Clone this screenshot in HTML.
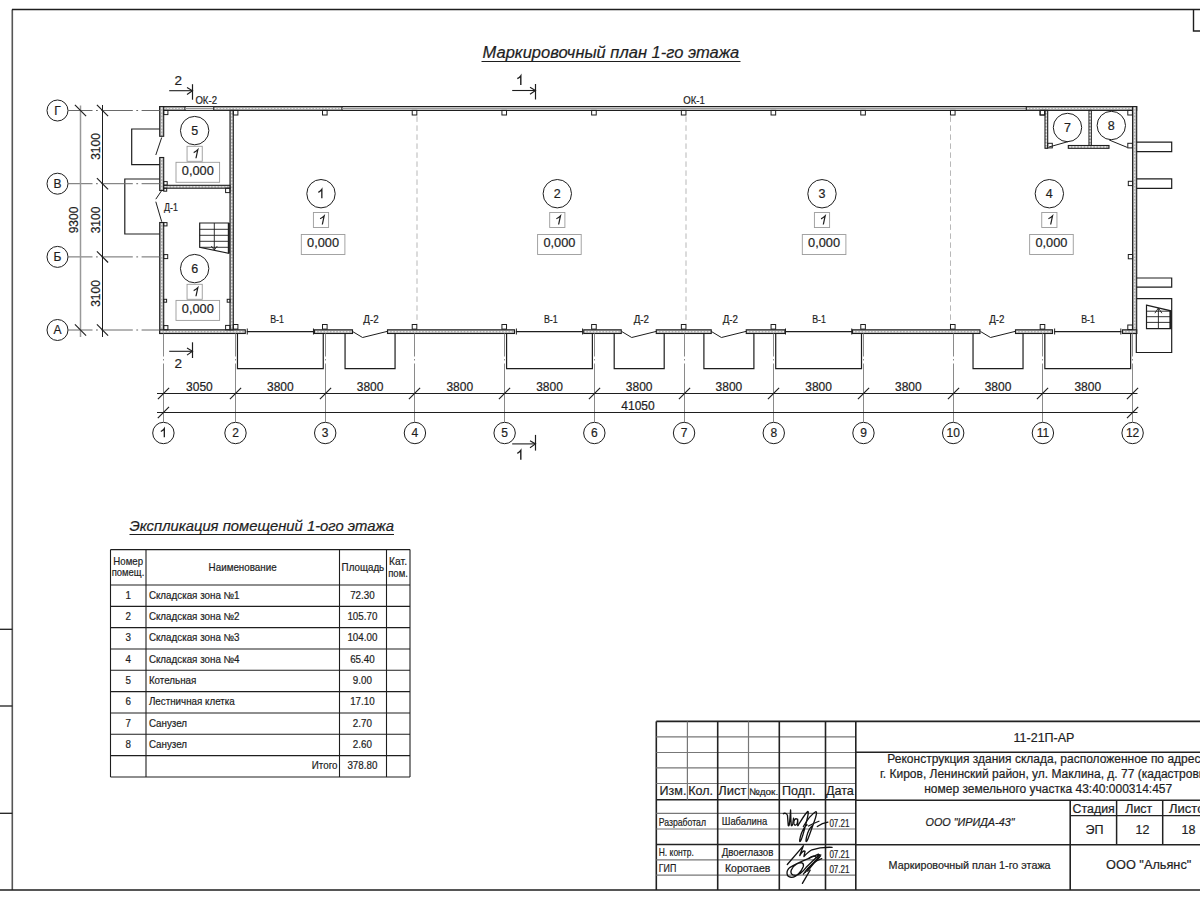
<!DOCTYPE html>
<html><head><meta charset="utf-8"><style>
html,body{margin:0;padding:0;background:#fff;width:1200px;height:900px;overflow:hidden;}
svg text{font-family:"Liberation Sans", sans-serif; stroke:#1e1e1e; stroke-width:0.2px;}
</style></head><body>
<svg width="1200" height="900" viewBox="0 0 1200 900" style="position:absolute;left:0;top:0" font-family='"Liberation Sans", sans-serif'>
<rect x="0" y="0" width="1200" height="900" fill="#ffffff"/>
<line x1="12.30" y1="9.50" x2="12.30" y2="890.00" stroke="#555" stroke-width="1.6" />
<line x1="12.00" y1="9.50" x2="1200.00" y2="9.50" stroke="#1e1e1e" stroke-width="1.6" />
<line x1="0.00" y1="890.00" x2="1200.00" y2="890.00" stroke="#1e1e1e" stroke-width="1.6" />
<line x1="0.00" y1="629.30" x2="12.30" y2="629.30" stroke="#1e1e1e" stroke-width="1.3" />
<line x1="0.00" y1="706.00" x2="12.30" y2="706.00" stroke="#1e1e1e" stroke-width="1.3" />
<line x1="0.00" y1="813.30" x2="12.30" y2="813.30" stroke="#1e1e1e" stroke-width="1.3" />
<polyline points="1200.00,31.00 1193.50,31.00 1193.50,9.50" fill="none" stroke="#1e1e1e" stroke-width="1.4" />
<text x="482.60" y="58.20" font-size="16" text-anchor="start" font-style="italic" fill="#1e1e1e" textLength="256.70" lengthAdjust="spacingAndGlyphs" >Маркировочный план 1-го этажа</text>
<line x1="481.50" y1="61.50" x2="740.50" y2="61.50" stroke="#1e1e1e" stroke-width="1" />
<rect x="159.70" y="106.60" width="25.30" height="3.80" fill="#b4b4b4" stroke="#1e1e1e" stroke-width="1.1" />
<line x1="160.70" y1="108.50" x2="184.00" y2="108.50" stroke="#eeeeee" stroke-width="1.2" stroke-dasharray="1.6 1.6"/>
<line x1="185.00" y1="106.60" x2="213.75" y2="106.60" stroke="#1e1e1e" stroke-width="1.1" />
<line x1="185.00" y1="110.40" x2="213.75" y2="110.40" stroke="#1e1e1e" stroke-width="1.1" />
<line x1="185.00" y1="108.50" x2="213.75" y2="108.50" stroke="#9a9a9a" stroke-width="1" />
<rect x="213.75" y="106.60" width="128.25" height="3.80" fill="#b4b4b4" stroke="#1e1e1e" stroke-width="1.1" />
<line x1="214.75" y1="108.50" x2="341.00" y2="108.50" stroke="#eeeeee" stroke-width="1.2" stroke-dasharray="1.6 1.6"/>
<line x1="342.00" y1="106.60" x2="1026.30" y2="106.60" stroke="#1e1e1e" stroke-width="1.1" />
<line x1="342.00" y1="110.40" x2="1026.30" y2="110.40" stroke="#1e1e1e" stroke-width="1.1" />
<line x1="342.00" y1="108.50" x2="1026.30" y2="108.50" stroke="#9a9a9a" stroke-width="1" />
<rect x="1026.30" y="106.60" width="110.40" height="3.80" fill="#b4b4b4" stroke="#1e1e1e" stroke-width="1.1" />
<line x1="1027.30" y1="108.50" x2="1135.70" y2="108.50" stroke="#eeeeee" stroke-width="1.2" stroke-dasharray="1.6 1.6"/>
<rect x="159.70" y="106.60" width="4.00" height="29.70" fill="#b4b4b4" stroke="#1e1e1e" stroke-width="1.1" />
<line x1="161.70" y1="107.60" x2="161.70" y2="135.30" stroke="#eeeeee" stroke-width="1.2" stroke-dasharray="1.6 1.6"/>
<rect x="159.70" y="157.50" width="4.00" height="33.00" fill="#b4b4b4" stroke="#1e1e1e" stroke-width="1.1" />
<line x1="161.70" y1="158.50" x2="161.70" y2="189.50" stroke="#eeeeee" stroke-width="1.2" stroke-dasharray="1.6 1.6"/>
<rect x="159.70" y="222.50" width="4.00" height="111.00" fill="#b4b4b4" stroke="#1e1e1e" stroke-width="1.1" />
<line x1="161.70" y1="223.50" x2="161.70" y2="332.50" stroke="#eeeeee" stroke-width="1.2" stroke-dasharray="1.6 1.6"/>
<rect x="1132.60" y="106.60" width="4.10" height="226.90" fill="#b4b4b4" stroke="#1e1e1e" stroke-width="1.1" />
<line x1="1134.65" y1="107.60" x2="1134.65" y2="332.50" stroke="#eeeeee" stroke-width="1.2" stroke-dasharray="1.6 1.6"/>
<rect x="159.70" y="329.80" width="85.60" height="3.70" fill="#b4b4b4" stroke="#1e1e1e" stroke-width="1.1" />
<line x1="160.70" y1="331.65" x2="244.30" y2="331.65" stroke="#eeeeee" stroke-width="1.2" stroke-dasharray="1.6 1.6"/>
<rect x="314.50" y="329.80" width="38.00" height="3.70" fill="#b4b4b4" stroke="#1e1e1e" stroke-width="1.1" />
<line x1="315.50" y1="331.65" x2="351.50" y2="331.65" stroke="#eeeeee" stroke-width="1.2" stroke-dasharray="1.6 1.6"/>
<rect x="387.50" y="329.80" width="127.00" height="3.70" fill="#b4b4b4" stroke="#1e1e1e" stroke-width="1.1" />
<line x1="388.50" y1="331.65" x2="513.50" y2="331.65" stroke="#eeeeee" stroke-width="1.2" stroke-dasharray="1.6 1.6"/>
<rect x="583.75" y="329.80" width="37.50" height="3.70" fill="#b4b4b4" stroke="#1e1e1e" stroke-width="1.1" />
<line x1="584.75" y1="331.65" x2="620.25" y2="331.65" stroke="#eeeeee" stroke-width="1.2" stroke-dasharray="1.6 1.6"/>
<rect x="656.25" y="329.80" width="55.00" height="3.70" fill="#b4b4b4" stroke="#1e1e1e" stroke-width="1.1" />
<line x1="657.25" y1="331.65" x2="710.25" y2="331.65" stroke="#eeeeee" stroke-width="1.2" stroke-dasharray="1.6 1.6"/>
<rect x="746.25" y="329.80" width="38.75" height="3.70" fill="#b4b4b4" stroke="#1e1e1e" stroke-width="1.1" />
<line x1="747.25" y1="331.65" x2="784.00" y2="331.65" stroke="#eeeeee" stroke-width="1.2" stroke-dasharray="1.6 1.6"/>
<rect x="852.50" y="329.80" width="127.50" height="3.70" fill="#b4b4b4" stroke="#1e1e1e" stroke-width="1.1" />
<line x1="853.50" y1="331.65" x2="979.00" y2="331.65" stroke="#eeeeee" stroke-width="1.2" stroke-dasharray="1.6 1.6"/>
<rect x="1015.50" y="329.80" width="37.00" height="3.70" fill="#b4b4b4" stroke="#1e1e1e" stroke-width="1.1" />
<line x1="1016.50" y1="331.65" x2="1051.50" y2="331.65" stroke="#eeeeee" stroke-width="1.2" stroke-dasharray="1.6 1.6"/>
<rect x="1122.50" y="329.80" width="14.20" height="3.70" fill="#b4b4b4" stroke="#1e1e1e" stroke-width="1.1" />
<line x1="1123.50" y1="331.65" x2="1135.70" y2="331.65" stroke="#eeeeee" stroke-width="1.2" stroke-dasharray="1.6 1.6"/>
<line x1="246.76" y1="331.60" x2="313.96" y2="331.60" stroke="#1e1e1e" stroke-width="1.1" />
<line x1="247.26" y1="328.50" x2="247.26" y2="334.50" stroke="#1e1e1e" stroke-width="1" />
<line x1="313.46" y1="328.50" x2="313.46" y2="334.50" stroke="#1e1e1e" stroke-width="1" />
<text x="277.00" y="322.80" font-size="10" text-anchor="middle"  fill="#1e1e1e" textLength="13.70" lengthAdjust="spacingAndGlyphs" >В-1</text>
<polyline points="237.46,333.50 237.46,368.60 323.25,368.60 323.25,333.50" fill="none" stroke="#1e1e1e" stroke-width="1.2" />
<line x1="515.88" y1="331.60" x2="583.08" y2="331.60" stroke="#1e1e1e" stroke-width="1.1" />
<line x1="516.38" y1="328.50" x2="516.38" y2="334.50" stroke="#1e1e1e" stroke-width="1" />
<line x1="582.58" y1="328.50" x2="582.58" y2="334.50" stroke="#1e1e1e" stroke-width="1" />
<text x="550.85" y="322.80" font-size="10" text-anchor="middle"  fill="#1e1e1e" textLength="13.70" lengthAdjust="spacingAndGlyphs" >В-1</text>
<polyline points="506.58,333.50 506.58,368.60 592.38,368.60 592.38,333.50" fill="none" stroke="#1e1e1e" stroke-width="1.2" />
<line x1="785.01" y1="331.60" x2="852.22" y2="331.60" stroke="#1e1e1e" stroke-width="1.1" />
<line x1="785.51" y1="328.50" x2="785.51" y2="334.50" stroke="#1e1e1e" stroke-width="1" />
<line x1="851.72" y1="328.50" x2="851.72" y2="334.50" stroke="#1e1e1e" stroke-width="1" />
<text x="819.10" y="322.80" font-size="10" text-anchor="middle"  fill="#1e1e1e" textLength="13.70" lengthAdjust="spacingAndGlyphs" >В-1</text>
<polyline points="775.72,333.50 775.72,368.60 861.51,368.60 861.51,333.50" fill="none" stroke="#1e1e1e" stroke-width="1.2" />
<line x1="1054.14" y1="331.60" x2="1121.34" y2="331.60" stroke="#1e1e1e" stroke-width="1.1" />
<line x1="1054.64" y1="328.50" x2="1054.64" y2="334.50" stroke="#1e1e1e" stroke-width="1" />
<line x1="1120.84" y1="328.50" x2="1120.84" y2="334.50" stroke="#1e1e1e" stroke-width="1" />
<text x="1088.10" y="322.80" font-size="10" text-anchor="middle"  fill="#1e1e1e" textLength="13.70" lengthAdjust="spacingAndGlyphs" >В-1</text>
<polyline points="1044.84,333.50 1044.84,368.60 1130.64,368.60 1130.64,333.50" fill="none" stroke="#1e1e1e" stroke-width="1.2" />
<polyline points="352.56,331.50 362.56,337.50 387.56,331.30" fill="none" stroke="#1e1e1e" stroke-width="1" />
<text x="371.00" y="322.80" font-size="10.2" text-anchor="middle"  fill="#1e1e1e" textLength="15.30" lengthAdjust="spacingAndGlyphs" >Д-2</text>
<polyline points="345.06,333.50 345.06,368.60 395.06,368.60 395.06,333.50" fill="none" stroke="#1e1e1e" stroke-width="1.2" />
<polyline points="621.69,331.50 631.69,337.50 656.69,331.30" fill="none" stroke="#1e1e1e" stroke-width="1" />
<text x="641.40" y="322.80" font-size="10.2" text-anchor="middle"  fill="#1e1e1e" textLength="15.30" lengthAdjust="spacingAndGlyphs" >Д-2</text>
<polyline points="614.19,333.50 614.19,368.60 664.19,368.60 664.19,333.50" fill="none" stroke="#1e1e1e" stroke-width="1.2" />
<polyline points="711.40,331.50 721.40,337.50 746.40,331.30" fill="none" stroke="#1e1e1e" stroke-width="1" />
<text x="730.30" y="322.80" font-size="10.2" text-anchor="middle"  fill="#1e1e1e" textLength="15.30" lengthAdjust="spacingAndGlyphs" >Д-2</text>
<polyline points="703.90,333.50 703.90,368.60 753.90,368.60 753.90,333.50" fill="none" stroke="#1e1e1e" stroke-width="1.2" />
<polyline points="980.53,331.50 990.53,337.50 1015.53,331.30" fill="none" stroke="#1e1e1e" stroke-width="1" />
<text x="996.90" y="322.80" font-size="10.2" text-anchor="middle"  fill="#1e1e1e" textLength="15.30" lengthAdjust="spacingAndGlyphs" >Д-2</text>
<polyline points="973.03,333.50 973.03,368.60 1023.03,368.60 1023.03,333.50" fill="none" stroke="#1e1e1e" stroke-width="1.2" />
<rect x="230.00" y="110.40" width="3.30" height="219.40" fill="#b4b4b4" stroke="#1e1e1e" stroke-width="1.1" />
<line x1="231.65" y1="111.40" x2="231.65" y2="328.80" stroke="#eeeeee" stroke-width="1.2" stroke-dasharray="1.6 1.6"/>
<rect x="163.70" y="185.30" width="66.30" height="2.90" fill="#b4b4b4" stroke="#1e1e1e" stroke-width="1.1" />
<line x1="164.70" y1="186.75" x2="229.00" y2="186.75" stroke="#eeeeee" stroke-width="1.2" stroke-dasharray="1.6 1.6"/>
<rect x="1045.00" y="110.40" width="2.70" height="37.90" fill="#b4b4b4" stroke="#1e1e1e" stroke-width="1.1" />
<line x1="1046.35" y1="111.40" x2="1046.35" y2="147.30" stroke="#eeeeee" stroke-width="1.2" stroke-dasharray="1.6 1.6"/>
<rect x="1089.00" y="110.40" width="2.30" height="35.10" fill="#b4b4b4" stroke="#1e1e1e" stroke-width="1.1" />
<line x1="1090.15" y1="111.40" x2="1090.15" y2="144.50" stroke="#eeeeee" stroke-width="1.2" stroke-dasharray="1.6 1.6"/>
<rect x="1068.30" y="145.50" width="40.70" height="2.80" fill="#b4b4b4" stroke="#1e1e1e" stroke-width="1.1" />
<line x1="1069.30" y1="146.90" x2="1108.00" y2="146.90" stroke="#eeeeee" stroke-width="1.2" stroke-dasharray="1.6 1.6"/>
<line x1="1049.00" y1="147.00" x2="1069.20" y2="141.30" stroke="#1e1e1e" stroke-width="1" />
<line x1="1109.20" y1="140.00" x2="1127.50" y2="147.50" stroke="#1e1e1e" stroke-width="1" />
<rect x="233.30" y="110.40" width="4.60" height="4.60" fill="none" stroke="#1e1e1e" stroke-width="1" />
<rect x="233.30" y="324.50" width="4.60" height="4.60" fill="none" stroke="#1e1e1e" stroke-width="1" />
<rect x="322.51" y="110.40" width="4.60" height="4.60" fill="none" stroke="#1e1e1e" stroke-width="1" />
<rect x="322.51" y="324.50" width="4.60" height="4.60" fill="none" stroke="#1e1e1e" stroke-width="1" />
<rect x="412.22" y="110.40" width="4.60" height="4.60" fill="none" stroke="#1e1e1e" stroke-width="1" />
<rect x="412.22" y="324.50" width="4.60" height="4.60" fill="none" stroke="#1e1e1e" stroke-width="1" />
<rect x="501.93" y="110.40" width="4.60" height="4.60" fill="none" stroke="#1e1e1e" stroke-width="1" />
<rect x="501.93" y="324.50" width="4.60" height="4.60" fill="none" stroke="#1e1e1e" stroke-width="1" />
<rect x="591.64" y="110.40" width="4.60" height="4.60" fill="none" stroke="#1e1e1e" stroke-width="1" />
<rect x="591.64" y="324.50" width="4.60" height="4.60" fill="none" stroke="#1e1e1e" stroke-width="1" />
<rect x="681.35" y="110.40" width="4.60" height="4.60" fill="none" stroke="#1e1e1e" stroke-width="1" />
<rect x="681.35" y="324.50" width="4.60" height="4.60" fill="none" stroke="#1e1e1e" stroke-width="1" />
<rect x="771.06" y="110.40" width="4.60" height="4.60" fill="none" stroke="#1e1e1e" stroke-width="1" />
<rect x="771.06" y="324.50" width="4.60" height="4.60" fill="none" stroke="#1e1e1e" stroke-width="1" />
<rect x="860.77" y="110.40" width="4.60" height="4.60" fill="none" stroke="#1e1e1e" stroke-width="1" />
<rect x="860.77" y="324.50" width="4.60" height="4.60" fill="none" stroke="#1e1e1e" stroke-width="1" />
<rect x="950.48" y="110.40" width="4.60" height="4.60" fill="none" stroke="#1e1e1e" stroke-width="1" />
<rect x="950.48" y="324.50" width="4.60" height="4.60" fill="none" stroke="#1e1e1e" stroke-width="1" />
<rect x="1040.19" y="110.40" width="4.60" height="4.60" fill="none" stroke="#1e1e1e" stroke-width="1" />
<rect x="1040.19" y="324.50" width="4.60" height="4.60" fill="none" stroke="#1e1e1e" stroke-width="1" />
<rect x="163.70" y="110.40" width="4.20" height="4.20" fill="none" stroke="#1e1e1e" stroke-width="1" />
<rect x="163.70" y="181.60" width="3.50" height="3.50" fill="none" stroke="#1e1e1e" stroke-width="1" />
<rect x="163.70" y="188.20" width="3.00" height="3.00" fill="none" stroke="#1e1e1e" stroke-width="1" />
<rect x="163.70" y="222.60" width="3.30" height="3.30" fill="none" stroke="#1e1e1e" stroke-width="1" />
<rect x="163.70" y="254.60" width="4.00" height="4.00" fill="none" stroke="#1e1e1e" stroke-width="1" />
<rect x="163.70" y="325.60" width="4.20" height="4.20" fill="none" stroke="#1e1e1e" stroke-width="1" />
<rect x="225.60" y="188.20" width="4.40" height="4.40" fill="none" stroke="#1e1e1e" stroke-width="1" />
<rect x="227.20" y="299.30" width="2.90" height="2.90" fill="none" stroke="#1e1e1e" stroke-width="1" />
<rect x="163.70" y="299.30" width="2.90" height="2.90" fill="none" stroke="#1e1e1e" stroke-width="1" />
<rect x="225.60" y="325.40" width="4.40" height="4.40" fill="none" stroke="#1e1e1e" stroke-width="1" />
<rect x="1127.80" y="110.40" width="4.60" height="4.60" fill="none" stroke="#1e1e1e" stroke-width="1" />
<rect x="1128.30" y="181.30" width="4.30" height="4.30" fill="none" stroke="#1e1e1e" stroke-width="1" />
<rect x="1128.30" y="254.50" width="4.30" height="4.30" fill="none" stroke="#1e1e1e" stroke-width="1" />
<rect x="1127.80" y="325.00" width="4.60" height="4.60" fill="none" stroke="#1e1e1e" stroke-width="1" />
<rect x="1040.00" y="110.40" width="4.60" height="4.60" fill="none" stroke="#1e1e1e" stroke-width="1" />
<rect x="1047.70" y="143.30" width="4.60" height="4.60" fill="none" stroke="#1e1e1e" stroke-width="1" />
<rect x="1127.80" y="143.30" width="4.60" height="4.60" fill="none" stroke="#1e1e1e" stroke-width="1" />
<line x1="161.70" y1="137.50" x2="155.80" y2="155.00" stroke="#1e1e1e" stroke-width="1" />
<line x1="161.70" y1="190.50" x2="155.80" y2="199.20" stroke="#1e1e1e" stroke-width="1" />
<line x1="155.80" y1="201.70" x2="161.70" y2="221.70" stroke="#1e1e1e" stroke-width="1" />
<polyline points="159.70,129.00 131.70,129.00 131.70,164.60 159.70,164.60" fill="none" stroke="#1e1e1e" stroke-width="1.2" />
<polyline points="159.70,179.00 124.80,179.00 124.80,234.00 159.70,234.00" fill="none" stroke="#1e1e1e" stroke-width="1.2" />
<polyline points="1136.70,142.20 1171.70,142.20 1171.70,151.70 1136.70,151.70" fill="none" stroke="#1e1e1e" stroke-width="1.2" />
<polyline points="1136.70,178.80 1171.70,178.80 1171.70,188.30 1136.70,188.30" fill="none" stroke="#1e1e1e" stroke-width="1.2" />
<polyline points="1136.70,278.00 1171.70,278.00 1171.70,287.20 1136.70,287.20" fill="none" stroke="#1e1e1e" stroke-width="1.2" />
<polyline points="1136.70,298.70 1171.70,298.70 1171.70,352.50 1136.30,352.50 1136.30,333.50" fill="none" stroke="#1e1e1e" stroke-width="1.2" />
<polygon points="1146.50,305.20 1170.80,310.80 1170.80,328.70 1146.50,328.70" fill="none" stroke="#1e1e1e" stroke-width="1.2" />
<line x1="1146.50" y1="311.20" x2="1170.80" y2="311.20" stroke="#1e1e1e" stroke-width="0.9" />
<line x1="1146.50" y1="316.70" x2="1170.80" y2="316.70" stroke="#1e1e1e" stroke-width="0.9" />
<line x1="1146.50" y1="322.40" x2="1170.80" y2="322.40" stroke="#1e1e1e" stroke-width="0.9" />
<line x1="1158.40" y1="329.00" x2="1158.40" y2="308.00" stroke="#1e1e1e" stroke-width="0.9" />
<polyline points="1154.90,313.20 1158.40,308.00 1161.90,313.20" fill="none" stroke="#1e1e1e" stroke-width="0.9" />
<line x1="1170.50" y1="310.80" x2="1170.50" y2="328.70" stroke="#1e1e1e" stroke-width="2.2" />
<polygon points="199.70,223.00 228.70,223.00 228.70,253.30 199.70,247.30" fill="none" stroke="#1e1e1e" stroke-width="1.2" />
<line x1="199.70" y1="229.30" x2="228.70" y2="229.30" stroke="#1e1e1e" stroke-width="0.9" />
<line x1="199.70" y1="235.30" x2="228.70" y2="235.30" stroke="#1e1e1e" stroke-width="0.9" />
<line x1="199.70" y1="241.30" x2="228.70" y2="241.30" stroke="#1e1e1e" stroke-width="0.9" />
<line x1="199.70" y1="247.30" x2="228.70" y2="247.30" stroke="#1e1e1e" stroke-width="0.9" />
<line x1="214.30" y1="223.00" x2="214.30" y2="250.00" stroke="#1e1e1e" stroke-width="0.9" />
<polyline points="211.30,246.00 214.30,250.00 217.30,246.00" fill="none" stroke="#1e1e1e" stroke-width="0.9" />
<line x1="228.80" y1="223.00" x2="228.80" y2="253.30" stroke="#1e1e1e" stroke-width="2" />
<line x1="417.00" y1="116.40" x2="417.00" y2="323.80" stroke="#999" stroke-width="0.7" stroke-dasharray="5.5 3.5"/>
<line x1="686.00" y1="116.40" x2="686.00" y2="323.80" stroke="#999" stroke-width="0.7" stroke-dasharray="5.5 3.5"/>
<line x1="950.50" y1="116.40" x2="950.50" y2="323.80" stroke="#999" stroke-width="0.7" stroke-dasharray="5.5 3.5"/>
<circle cx="194.65" cy="130.60" r="14.20" fill="none" stroke="#1e1e1e" stroke-width="1"/>
<text x="194.65" y="135.20" font-size="12.5" text-anchor="middle"  fill="#1e1e1e"  >5</text>
<rect x="187.05" y="146.30" width="15.20" height="15.00" fill="none" stroke="#9a9a9a" stroke-width="0.9" />
<g transform="translate(194.85,158.30) skewX(-12) translate(-194.85,-158.30)">
<path d="M 195.97,158.30 L 195.97,149.70 C 195.07,151.00 193.97,151.90 192.47,152.60" fill="none" stroke="#1e1e1e" stroke-width="1.25" stroke-linejoin="miter"/>
</g>
<rect x="176.00" y="162.30" width="43.60" height="20.00" fill="none" stroke="#9a9a9a" stroke-width="0.9" />
<text x="197.80" y="174.90" font-size="12.8" text-anchor="middle"  fill="#1e1e1e"  >0,000</text>
<circle cx="194.65" cy="268.60" r="14.20" fill="none" stroke="#1e1e1e" stroke-width="1"/>
<text x="194.65" y="273.20" font-size="12.5" text-anchor="middle"  fill="#1e1e1e"  >6</text>
<rect x="187.05" y="284.30" width="15.20" height="15.00" fill="none" stroke="#9a9a9a" stroke-width="0.9" />
<g transform="translate(194.85,296.30) skewX(-12) translate(-194.85,-296.30)">
<path d="M 195.97,296.30 L 195.97,287.70 C 195.07,289.00 193.97,289.90 192.47,290.60" fill="none" stroke="#1e1e1e" stroke-width="1.25" stroke-linejoin="miter"/>
</g>
<rect x="176.00" y="300.40" width="43.60" height="20.00" fill="none" stroke="#9a9a9a" stroke-width="0.9" />
<text x="197.80" y="313.00" font-size="12.8" text-anchor="middle"  fill="#1e1e1e"  >0,000</text>
<circle cx="321.00" cy="193.70" r="14.20" fill="none" stroke="#1e1e1e" stroke-width="1"/>
<path d="M 321.84,198.20 L 321.84,189.40 C 320.94,190.70 319.84,191.60 318.34,192.30" fill="none" stroke="#1e1e1e" stroke-width="1.3" stroke-linejoin="miter"/>
<rect x="313.40" y="212.50" width="15.20" height="15.00" fill="none" stroke="#9a9a9a" stroke-width="0.9" />
<g transform="translate(321.20,224.50) skewX(-12) translate(-321.20,-224.50)">
<path d="M 322.32,224.50 L 322.32,215.90 C 321.42,217.20 320.32,218.10 318.82,218.80" fill="none" stroke="#1e1e1e" stroke-width="1.25" stroke-linejoin="miter"/>
</g>
<rect x="301.30" y="234.50" width="43.60" height="20.00" fill="none" stroke="#9a9a9a" stroke-width="0.9" />
<text x="323.10" y="247.10" font-size="12.8" text-anchor="middle"  fill="#1e1e1e"  >0,000</text>
<circle cx="557.30" cy="193.70" r="14.20" fill="none" stroke="#1e1e1e" stroke-width="1"/>
<text x="557.30" y="198.30" font-size="12.5" text-anchor="middle"  fill="#1e1e1e"  >2</text>
<rect x="549.70" y="212.50" width="15.20" height="15.00" fill="none" stroke="#9a9a9a" stroke-width="0.9" />
<g transform="translate(557.50,224.50) skewX(-12) translate(-557.50,-224.50)">
<path d="M 558.62,224.50 L 558.62,215.90 C 557.72,217.20 556.62,218.10 555.12,218.80" fill="none" stroke="#1e1e1e" stroke-width="1.25" stroke-linejoin="miter"/>
</g>
<rect x="537.60" y="234.50" width="43.60" height="20.00" fill="none" stroke="#9a9a9a" stroke-width="0.9" />
<text x="559.40" y="247.10" font-size="12.8" text-anchor="middle"  fill="#1e1e1e"  >0,000</text>
<circle cx="822.00" cy="193.75" r="14.20" fill="none" stroke="#1e1e1e" stroke-width="1"/>
<text x="822.00" y="198.35" font-size="12.5" text-anchor="middle"  fill="#1e1e1e"  >3</text>
<rect x="814.40" y="212.55" width="15.20" height="15.00" fill="none" stroke="#9a9a9a" stroke-width="0.9" />
<g transform="translate(822.20,224.55) skewX(-12) translate(-822.20,-224.55)">
<path d="M 823.32,224.55 L 823.32,215.95 C 822.42,217.25 821.32,218.15 819.82,218.85" fill="none" stroke="#1e1e1e" stroke-width="1.25" stroke-linejoin="miter"/>
</g>
<rect x="802.30" y="234.55" width="43.60" height="20.00" fill="none" stroke="#9a9a9a" stroke-width="0.9" />
<text x="824.10" y="247.15" font-size="12.8" text-anchor="middle"  fill="#1e1e1e"  >0,000</text>
<circle cx="1049.35" cy="193.70" r="14.20" fill="none" stroke="#1e1e1e" stroke-width="1"/>
<text x="1049.35" y="198.30" font-size="12.5" text-anchor="middle"  fill="#1e1e1e"  >4</text>
<rect x="1041.75" y="212.50" width="15.20" height="15.00" fill="none" stroke="#9a9a9a" stroke-width="0.9" />
<g transform="translate(1049.55,224.50) skewX(-12) translate(-1049.55,-224.50)">
<path d="M 1050.67,224.50 L 1050.67,215.90 C 1049.77,217.20 1048.67,218.10 1047.17,218.80" fill="none" stroke="#1e1e1e" stroke-width="1.25" stroke-linejoin="miter"/>
</g>
<rect x="1029.65" y="234.50" width="43.60" height="20.00" fill="none" stroke="#9a9a9a" stroke-width="0.9" />
<text x="1051.45" y="247.10" font-size="12.8" text-anchor="middle"  fill="#1e1e1e"  >0,000</text>
<circle cx="1067.50" cy="127.50" r="14.20" fill="none" stroke="#1e1e1e" stroke-width="1"/>
<text x="1067.50" y="132.10" font-size="12.5" text-anchor="middle"  fill="#1e1e1e"  >7</text>
<circle cx="1111.30" cy="125.50" r="14.20" fill="none" stroke="#1e1e1e" stroke-width="1"/>
<text x="1111.30" y="130.10" font-size="12.5" text-anchor="middle"  fill="#1e1e1e"  >8</text>
<text x="195.40" y="103.80" font-size="11" text-anchor="start"  fill="#1e1e1e" textLength="21.60" lengthAdjust="spacingAndGlyphs" >ОК-2</text>
<text x="683.30" y="103.50" font-size="11" text-anchor="start"  fill="#1e1e1e" textLength="21.60" lengthAdjust="spacingAndGlyphs" >ОК-1</text>
<text x="164.10" y="210.50" font-size="10.6" text-anchor="start"  fill="#1e1e1e" textLength="13.80" lengthAdjust="spacingAndGlyphs" >Д-1</text>
<circle cx="57.50" cy="110.50" r="10.50" fill="none" stroke="#1e1e1e" stroke-width="1"/>
<text x="57.50" y="114.70" font-size="12" text-anchor="middle"  fill="#1e1e1e"  >Г</text>
<line x1="68.00" y1="110.50" x2="159.70" y2="110.50" stroke="#6a6a6a" stroke-width="1" stroke-dasharray="31.5 3.5 1.8 3.5" stroke-dashoffset="7"/>
<circle cx="57.50" cy="183.70" r="10.50" fill="none" stroke="#1e1e1e" stroke-width="1"/>
<text x="57.50" y="187.90" font-size="12" text-anchor="middle"  fill="#1e1e1e"  >В</text>
<line x1="68.00" y1="183.70" x2="159.70" y2="183.70" stroke="#6a6a6a" stroke-width="1" stroke-dasharray="31.5 3.5 1.8 3.5" stroke-dashoffset="7"/>
<circle cx="57.50" cy="256.90" r="10.50" fill="none" stroke="#1e1e1e" stroke-width="1"/>
<text x="57.50" y="261.10" font-size="12" text-anchor="middle"  fill="#1e1e1e"  >Б</text>
<line x1="68.00" y1="256.90" x2="159.70" y2="256.90" stroke="#6a6a6a" stroke-width="1" stroke-dasharray="31.5 3.5 1.8 3.5" stroke-dashoffset="7"/>
<circle cx="57.50" cy="330.00" r="10.50" fill="none" stroke="#1e1e1e" stroke-width="1"/>
<text x="57.50" y="334.20" font-size="12" text-anchor="middle"  fill="#1e1e1e"  >А</text>
<line x1="68.00" y1="330.00" x2="159.70" y2="330.00" stroke="#6a6a6a" stroke-width="1" stroke-dasharray="31.5 3.5 1.8 3.5" stroke-dashoffset="7"/>
<circle cx="163.40" cy="433.00" r="10.70" fill="none" stroke="#1e1e1e" stroke-width="1"/>
<path d="M 164.32,437.20 L 164.32,428.60 C 163.42,429.90 162.32,430.80 160.82,431.50" fill="none" stroke="#1e1e1e" stroke-width="1.3" stroke-linejoin="miter"/>
<line x1="163.50" y1="333.50" x2="163.50" y2="422.30" stroke="#8a8a8a" stroke-width="1" stroke-dasharray="23 2.5 1.5 3 200"/>
<circle cx="235.50" cy="433.00" r="10.70" fill="none" stroke="#1e1e1e" stroke-width="1"/>
<text x="235.50" y="437.20" font-size="12" text-anchor="middle"  fill="#1e1e1e"  >2</text>
<line x1="235.50" y1="333.50" x2="235.50" y2="422.30" stroke="#8a8a8a" stroke-width="1" stroke-dasharray="23 2.5 1.5 3 200"/>
<circle cx="325.21" cy="433.00" r="10.70" fill="none" stroke="#1e1e1e" stroke-width="1"/>
<text x="325.21" y="437.20" font-size="12" text-anchor="middle"  fill="#1e1e1e"  >3</text>
<line x1="325.50" y1="333.50" x2="325.50" y2="422.30" stroke="#8a8a8a" stroke-width="1" stroke-dasharray="23 2.5 1.5 3 200"/>
<circle cx="414.92" cy="433.00" r="10.70" fill="none" stroke="#1e1e1e" stroke-width="1"/>
<text x="414.92" y="437.20" font-size="12" text-anchor="middle"  fill="#1e1e1e"  >4</text>
<line x1="414.50" y1="333.50" x2="414.50" y2="422.30" stroke="#8a8a8a" stroke-width="1" stroke-dasharray="23 2.5 1.5 3 200"/>
<circle cx="504.63" cy="433.00" r="10.70" fill="none" stroke="#1e1e1e" stroke-width="1"/>
<text x="504.63" y="437.20" font-size="12" text-anchor="middle"  fill="#1e1e1e"  >5</text>
<line x1="504.50" y1="333.50" x2="504.50" y2="422.30" stroke="#8a8a8a" stroke-width="1" stroke-dasharray="23 2.5 1.5 3 200"/>
<circle cx="594.34" cy="433.00" r="10.70" fill="none" stroke="#1e1e1e" stroke-width="1"/>
<text x="594.34" y="437.20" font-size="12" text-anchor="middle"  fill="#1e1e1e"  >6</text>
<line x1="594.50" y1="333.50" x2="594.50" y2="422.30" stroke="#8a8a8a" stroke-width="1" stroke-dasharray="23 2.5 1.5 3 200"/>
<circle cx="684.05" cy="433.00" r="10.70" fill="none" stroke="#1e1e1e" stroke-width="1"/>
<text x="684.05" y="437.20" font-size="12" text-anchor="middle"  fill="#1e1e1e"  >7</text>
<line x1="684.50" y1="333.50" x2="684.50" y2="422.30" stroke="#8a8a8a" stroke-width="1" stroke-dasharray="23 2.5 1.5 3 200"/>
<circle cx="773.76" cy="433.00" r="10.70" fill="none" stroke="#1e1e1e" stroke-width="1"/>
<text x="773.76" y="437.20" font-size="12" text-anchor="middle"  fill="#1e1e1e"  >8</text>
<line x1="773.50" y1="333.50" x2="773.50" y2="422.30" stroke="#8a8a8a" stroke-width="1" stroke-dasharray="23 2.5 1.5 3 200"/>
<circle cx="863.47" cy="433.00" r="10.70" fill="none" stroke="#1e1e1e" stroke-width="1"/>
<text x="863.47" y="437.20" font-size="12" text-anchor="middle"  fill="#1e1e1e"  >9</text>
<line x1="863.50" y1="333.50" x2="863.50" y2="422.30" stroke="#8a8a8a" stroke-width="1" stroke-dasharray="23 2.5 1.5 3 200"/>
<circle cx="953.18" cy="433.00" r="10.70" fill="none" stroke="#1e1e1e" stroke-width="1"/>
<text x="953.18" y="437.20" font-size="12" text-anchor="middle"  fill="#1e1e1e"  >10</text>
<line x1="953.50" y1="333.50" x2="953.50" y2="422.30" stroke="#8a8a8a" stroke-width="1" stroke-dasharray="23 2.5 1.5 3 200"/>
<circle cx="1042.89" cy="433.00" r="10.70" fill="none" stroke="#1e1e1e" stroke-width="1"/>
<text x="1042.89" y="437.20" font-size="12" text-anchor="middle"  fill="#1e1e1e"  >11</text>
<line x1="1042.50" y1="333.50" x2="1042.50" y2="422.30" stroke="#8a8a8a" stroke-width="1" stroke-dasharray="23 2.5 1.5 3 200"/>
<circle cx="1132.60" cy="433.00" r="10.70" fill="none" stroke="#1e1e1e" stroke-width="1"/>
<text x="1132.60" y="437.20" font-size="12" text-anchor="middle"  fill="#1e1e1e"  >12</text>
<line x1="1132.50" y1="333.50" x2="1132.50" y2="422.30" stroke="#8a8a8a" stroke-width="1" stroke-dasharray="23 2.5 1.5 3 200"/>
<line x1="80.50" y1="105.50" x2="80.50" y2="337.00" stroke="#999" stroke-width="1.5" />
<line x1="102.50" y1="105.00" x2="102.50" y2="337.00" stroke="#1e1e1e" stroke-width="1" />
<line x1="74.90" y1="104.90" x2="86.10" y2="116.10" stroke="#1e1e1e" stroke-width="1.15" />
<line x1="74.90" y1="324.40" x2="86.10" y2="335.60" stroke="#1e1e1e" stroke-width="1.15" />
<line x1="96.90" y1="104.90" x2="108.10" y2="116.10" stroke="#1e1e1e" stroke-width="1.15" />
<line x1="96.90" y1="178.10" x2="108.10" y2="189.30" stroke="#1e1e1e" stroke-width="1.15" />
<line x1="96.90" y1="251.30" x2="108.10" y2="262.50" stroke="#1e1e1e" stroke-width="1.15" />
<line x1="96.90" y1="324.40" x2="108.10" y2="335.60" stroke="#1e1e1e" stroke-width="1.15" />
<text x="0.00" y="0.00" font-size="12" text-anchor="middle"  fill="#1e1e1e"  transform="translate(77.6,220) rotate(-90)">9300</text>
<text x="0.00" y="0.00" font-size="12" text-anchor="middle"  fill="#1e1e1e"  transform="translate(100.2,146.5) rotate(-90)">3100</text>
<text x="0.00" y="0.00" font-size="12" text-anchor="middle"  fill="#1e1e1e"  transform="translate(100.2,220) rotate(-90)">3100</text>
<text x="0.00" y="0.00" font-size="12" text-anchor="middle"  fill="#1e1e1e"  transform="translate(100.2,293.5) rotate(-90)">3100</text>
<line x1="157.00" y1="393.50" x2="1137.50" y2="393.50" stroke="#1e1e1e" stroke-width="1" />
<line x1="157.00" y1="412.50" x2="1137.50" y2="412.50" stroke="#1e1e1e" stroke-width="1" />
<line x1="157.90" y1="399.10" x2="169.10" y2="387.90" stroke="#1e1e1e" stroke-width="1.15" />
<line x1="229.90" y1="399.10" x2="241.10" y2="387.90" stroke="#1e1e1e" stroke-width="1.15" />
<line x1="319.90" y1="399.10" x2="331.10" y2="387.90" stroke="#1e1e1e" stroke-width="1.15" />
<line x1="408.90" y1="399.10" x2="420.10" y2="387.90" stroke="#1e1e1e" stroke-width="1.15" />
<line x1="498.90" y1="399.10" x2="510.10" y2="387.90" stroke="#1e1e1e" stroke-width="1.15" />
<line x1="588.90" y1="399.10" x2="600.10" y2="387.90" stroke="#1e1e1e" stroke-width="1.15" />
<line x1="678.90" y1="399.10" x2="690.10" y2="387.90" stroke="#1e1e1e" stroke-width="1.15" />
<line x1="767.90" y1="399.10" x2="779.10" y2="387.90" stroke="#1e1e1e" stroke-width="1.15" />
<line x1="857.90" y1="399.10" x2="869.10" y2="387.90" stroke="#1e1e1e" stroke-width="1.15" />
<line x1="947.90" y1="399.10" x2="959.10" y2="387.90" stroke="#1e1e1e" stroke-width="1.15" />
<line x1="1036.90" y1="399.10" x2="1048.10" y2="387.90" stroke="#1e1e1e" stroke-width="1.15" />
<line x1="1126.90" y1="399.10" x2="1138.10" y2="387.90" stroke="#1e1e1e" stroke-width="1.15" />
<line x1="157.80" y1="418.10" x2="169.00" y2="406.90" stroke="#1e1e1e" stroke-width="1.15" />
<line x1="1127.00" y1="418.10" x2="1138.20" y2="406.90" stroke="#1e1e1e" stroke-width="1.15" />
<text x="199.45" y="391.30" font-size="12" text-anchor="middle"  fill="#1e1e1e"  >3050</text>
<text x="280.36" y="391.30" font-size="12" text-anchor="middle"  fill="#1e1e1e"  >3800</text>
<text x="370.06" y="391.30" font-size="12" text-anchor="middle"  fill="#1e1e1e"  >3800</text>
<text x="459.77" y="391.30" font-size="12" text-anchor="middle"  fill="#1e1e1e"  >3800</text>
<text x="549.48" y="391.30" font-size="12" text-anchor="middle"  fill="#1e1e1e"  >3800</text>
<text x="639.19" y="391.30" font-size="12" text-anchor="middle"  fill="#1e1e1e"  >3800</text>
<text x="728.90" y="391.30" font-size="12" text-anchor="middle"  fill="#1e1e1e"  >3800</text>
<text x="818.62" y="391.30" font-size="12" text-anchor="middle"  fill="#1e1e1e"  >3800</text>
<text x="908.32" y="391.30" font-size="12" text-anchor="middle"  fill="#1e1e1e"  >3800</text>
<text x="998.03" y="391.30" font-size="12" text-anchor="middle"  fill="#1e1e1e"  >3800</text>
<text x="1087.74" y="391.30" font-size="12" text-anchor="middle"  fill="#1e1e1e"  >3800</text>
<text x="638.00" y="409.70" font-size="12" text-anchor="middle"  fill="#1e1e1e"  >41050</text>
<line x1="169.20" y1="90.70" x2="192.50" y2="90.70" stroke="#1e1e1e" stroke-width="1.1" />
<line x1="192.50" y1="84.20" x2="192.50" y2="99.70" stroke="#1e1e1e" stroke-width="1.2" />
<polyline points="187.00,87.50 192.50,90.70 187.00,94.50" fill="none" stroke="#1e1e1e" stroke-width="1.1" />
<text x="178.30" y="85.00" font-size="13.5" text-anchor="middle"  fill="#1e1e1e"  >2</text>
<line x1="512.20" y1="90.50" x2="535.50" y2="90.50" stroke="#1e1e1e" stroke-width="1.1" />
<line x1="535.50" y1="84.00" x2="535.50" y2="99.50" stroke="#1e1e1e" stroke-width="1.2" />
<polyline points="530.00,87.30 535.50,90.50 530.00,94.30" fill="none" stroke="#1e1e1e" stroke-width="1.1" />
<path d="M 520.81,85.10 L 520.81,75.80 C 519.91,77.10 518.81,78.00 517.31,78.70" fill="none" stroke="#1e1e1e" stroke-width="1.4" stroke-linejoin="miter"/>
<line x1="169.20" y1="351.30" x2="192.50" y2="351.30" stroke="#1e1e1e" stroke-width="1.1" />
<line x1="192.50" y1="342.30" x2="192.50" y2="358.00" stroke="#1e1e1e" stroke-width="1.2" />
<polyline points="187.00,348.10 192.50,351.30 187.00,355.10" fill="none" stroke="#1e1e1e" stroke-width="1.1" />
<text x="178.30" y="367.50" font-size="13.5" text-anchor="middle"  fill="#1e1e1e"  >2</text>
<line x1="512.20" y1="443.90" x2="535.50" y2="443.90" stroke="#1e1e1e" stroke-width="1.1" />
<line x1="535.50" y1="434.90" x2="535.50" y2="450.60" stroke="#1e1e1e" stroke-width="1.2" />
<polyline points="530.00,440.70 535.50,443.90 530.00,447.70" fill="none" stroke="#1e1e1e" stroke-width="1.1" />
<path d="M 520.81,459.70 L 520.81,450.40 C 519.91,451.70 518.81,452.60 517.31,453.30" fill="none" stroke="#1e1e1e" stroke-width="1.4" stroke-linejoin="miter"/>
<text x="129.50" y="531.20" font-size="14" text-anchor="start" font-style="italic" fill="#1e1e1e" textLength="264.40" lengthAdjust="spacingAndGlyphs" >Экспликация помещений 1-ого этажа</text>
<line x1="129.50" y1="534.50" x2="394.00" y2="534.50" stroke="#1e1e1e" stroke-width="1" />
<line x1="110.50" y1="549.60" x2="110.50" y2="777.00" stroke="#1e1e1e" stroke-width="1.1" />
<line x1="146.00" y1="549.60" x2="146.00" y2="777.00" stroke="#1e1e1e" stroke-width="1.1" />
<line x1="339.50" y1="549.60" x2="339.50" y2="777.00" stroke="#1e1e1e" stroke-width="1.1" />
<line x1="386.50" y1="549.60" x2="386.50" y2="777.00" stroke="#1e1e1e" stroke-width="1.1" />
<line x1="410.00" y1="549.60" x2="410.00" y2="777.00" stroke="#1e1e1e" stroke-width="1.1" />
<line x1="110.50" y1="549.60" x2="410.00" y2="549.60" stroke="#1e1e1e" stroke-width="1.1" />
<line x1="110.50" y1="585.00" x2="410.00" y2="585.00" stroke="#1e1e1e" stroke-width="1.1" />
<line x1="110.50" y1="606.33" x2="410.00" y2="606.33" stroke="#1e1e1e" stroke-width="1.1" />
<line x1="110.50" y1="627.66" x2="410.00" y2="627.66" stroke="#1e1e1e" stroke-width="1.1" />
<line x1="110.50" y1="648.99" x2="410.00" y2="648.99" stroke="#1e1e1e" stroke-width="1.1" />
<line x1="110.50" y1="670.32" x2="410.00" y2="670.32" stroke="#1e1e1e" stroke-width="1.1" />
<line x1="110.50" y1="691.65" x2="410.00" y2="691.65" stroke="#1e1e1e" stroke-width="1.1" />
<line x1="110.50" y1="712.98" x2="410.00" y2="712.98" stroke="#1e1e1e" stroke-width="1.1" />
<line x1="110.50" y1="734.31" x2="410.00" y2="734.31" stroke="#1e1e1e" stroke-width="1.1" />
<line x1="110.50" y1="755.64" x2="410.00" y2="755.64" stroke="#1e1e1e" stroke-width="1.1" />
<line x1="110.50" y1="777.00" x2="410.00" y2="777.00" stroke="#1e1e1e" stroke-width="1.1" />
<text x="113.30" y="564.90" font-size="10.8" text-anchor="start"  fill="#1e1e1e" textLength="29.70" lengthAdjust="spacingAndGlyphs" >Номер</text>
<text x="111.70" y="576.20" font-size="10.8" text-anchor="start"  fill="#1e1e1e" textLength="32.60" lengthAdjust="spacingAndGlyphs" >помещ.</text>
<text x="208.60" y="571.20" font-size="10.5" text-anchor="start"  fill="#1e1e1e" textLength="68.10" lengthAdjust="spacingAndGlyphs" >Наименование</text>
<text x="341.60" y="571.20" font-size="10.5" text-anchor="start"  fill="#1e1e1e" textLength="42.60" lengthAdjust="spacingAndGlyphs" >Площадь</text>
<text x="389.10" y="565.20" font-size="10.5" text-anchor="start"  fill="#1e1e1e" textLength="17.90" lengthAdjust="spacingAndGlyphs" >Кат.</text>
<text x="388.20" y="577.00" font-size="10.5" text-anchor="start"  fill="#1e1e1e" textLength="19.70" lengthAdjust="spacingAndGlyphs" >пом.</text>
<text x="128.25" y="598.80" font-size="10.2" text-anchor="middle"  fill="#1e1e1e" textLength="5.45" lengthAdjust="spacingAndGlyphs" >1</text>
<text x="148.90" y="598.80" font-size="10.2" text-anchor="start"  fill="#1e1e1e" textLength="90.63" lengthAdjust="spacingAndGlyphs" >Складская зона №1</text>
<text x="362.40" y="598.80" font-size="10.2" text-anchor="middle"  fill="#1e1e1e" textLength="24.52" lengthAdjust="spacingAndGlyphs" >72.30</text>
<text x="128.25" y="620.13" font-size="10.2" text-anchor="middle"  fill="#1e1e1e" textLength="5.45" lengthAdjust="spacingAndGlyphs" >2</text>
<text x="148.90" y="620.13" font-size="10.2" text-anchor="start"  fill="#1e1e1e" textLength="90.63" lengthAdjust="spacingAndGlyphs" >Складская зона №2</text>
<text x="362.40" y="620.13" font-size="10.2" text-anchor="middle"  fill="#1e1e1e" textLength="29.97" lengthAdjust="spacingAndGlyphs" >105.70</text>
<text x="128.25" y="641.46" font-size="10.2" text-anchor="middle"  fill="#1e1e1e" textLength="5.45" lengthAdjust="spacingAndGlyphs" >3</text>
<text x="148.90" y="641.46" font-size="10.2" text-anchor="start"  fill="#1e1e1e" textLength="90.63" lengthAdjust="spacingAndGlyphs" >Складская зона №3</text>
<text x="362.40" y="641.46" font-size="10.2" text-anchor="middle"  fill="#1e1e1e" textLength="29.97" lengthAdjust="spacingAndGlyphs" >104.00</text>
<text x="128.25" y="662.79" font-size="10.2" text-anchor="middle"  fill="#1e1e1e" textLength="5.45" lengthAdjust="spacingAndGlyphs" >4</text>
<text x="148.90" y="662.79" font-size="10.2" text-anchor="start"  fill="#1e1e1e" textLength="90.63" lengthAdjust="spacingAndGlyphs" >Складская зона №4</text>
<text x="362.40" y="662.79" font-size="10.2" text-anchor="middle"  fill="#1e1e1e" textLength="24.52" lengthAdjust="spacingAndGlyphs" >65.40</text>
<text x="128.25" y="684.12" font-size="10.2" text-anchor="middle"  fill="#1e1e1e" textLength="5.45" lengthAdjust="spacingAndGlyphs" >5</text>
<text x="148.90" y="684.12" font-size="10.2" text-anchor="start"  fill="#1e1e1e" textLength="47.44" lengthAdjust="spacingAndGlyphs" >Котельная</text>
<text x="362.40" y="684.12" font-size="10.2" text-anchor="middle"  fill="#1e1e1e" textLength="19.07" lengthAdjust="spacingAndGlyphs" >9.00</text>
<text x="128.25" y="705.45" font-size="10.2" text-anchor="middle"  fill="#1e1e1e" textLength="5.45" lengthAdjust="spacingAndGlyphs" >6</text>
<text x="148.90" y="705.45" font-size="10.2" text-anchor="start"  fill="#1e1e1e" textLength="85.84" lengthAdjust="spacingAndGlyphs" >Лестничная клетка</text>
<text x="362.40" y="705.45" font-size="10.2" text-anchor="middle"  fill="#1e1e1e" textLength="24.52" lengthAdjust="spacingAndGlyphs" >17.10</text>
<text x="128.25" y="726.78" font-size="10.2" text-anchor="middle"  fill="#1e1e1e" textLength="5.45" lengthAdjust="spacingAndGlyphs" >7</text>
<text x="148.90" y="726.78" font-size="10.2" text-anchor="start"  fill="#1e1e1e" textLength="38.18" lengthAdjust="spacingAndGlyphs" >Санузел</text>
<text x="362.40" y="726.78" font-size="10.2" text-anchor="middle"  fill="#1e1e1e" textLength="19.07" lengthAdjust="spacingAndGlyphs" >2.70</text>
<text x="128.25" y="748.11" font-size="10.2" text-anchor="middle"  fill="#1e1e1e" textLength="5.45" lengthAdjust="spacingAndGlyphs" >8</text>
<text x="148.90" y="748.11" font-size="10.2" text-anchor="start"  fill="#1e1e1e" textLength="38.18" lengthAdjust="spacingAndGlyphs" >Санузел</text>
<text x="362.40" y="748.11" font-size="10.2" text-anchor="middle"  fill="#1e1e1e" textLength="19.07" lengthAdjust="spacingAndGlyphs" >2.60</text>
<text x="337.50" y="769.44" font-size="10.2" text-anchor="end"  fill="#1e1e1e" textLength="25.68" lengthAdjust="spacingAndGlyphs" >Итого</text>
<text x="362.40" y="769.44" font-size="10.2" text-anchor="middle"  fill="#1e1e1e" textLength="29.97" lengthAdjust="spacingAndGlyphs" >378.80</text>
<line x1="656.30" y1="721.40" x2="1200.00" y2="721.40" stroke="#222" stroke-width="1.6" />
<line x1="656.30" y1="721.40" x2="656.30" y2="890.00" stroke="#222" stroke-width="1.6" />
<line x1="656.30" y1="736.80" x2="855.80" y2="736.80" stroke="#777" stroke-width="1.2" />
<line x1="656.30" y1="752.50" x2="855.80" y2="752.50" stroke="#777" stroke-width="1.2" />
<line x1="656.30" y1="767.90" x2="855.80" y2="767.90" stroke="#777" stroke-width="1.2" />
<line x1="656.30" y1="783.50" x2="855.80" y2="783.50" stroke="#777" stroke-width="1.2" />
<line x1="656.30" y1="799.80" x2="855.80" y2="799.80" stroke="#222" stroke-width="1.5" />
<line x1="656.30" y1="813.40" x2="855.80" y2="813.40" stroke="#777" stroke-width="1.2" />
<line x1="656.30" y1="829.00" x2="855.80" y2="829.00" stroke="#777" stroke-width="1.2" />
<line x1="656.30" y1="844.60" x2="855.80" y2="844.60" stroke="#222" stroke-width="1.5" />
<line x1="656.30" y1="859.80" x2="855.80" y2="859.80" stroke="#777" stroke-width="1.2" />
<line x1="656.30" y1="875.20" x2="855.80" y2="875.20" stroke="#777" stroke-width="1.2" />
<line x1="717.70" y1="721.40" x2="717.70" y2="890.00" stroke="#222" stroke-width="1.6" />
<line x1="779.30" y1="721.40" x2="779.30" y2="890.00" stroke="#222" stroke-width="1.6" />
<line x1="825.50" y1="721.40" x2="825.50" y2="890.00" stroke="#222" stroke-width="1.6" />
<line x1="855.80" y1="721.40" x2="855.80" y2="890.00" stroke="#222" stroke-width="1.6" />
<line x1="687.40" y1="721.40" x2="687.40" y2="799.80" stroke="#777" stroke-width="1.2" />
<line x1="748.50" y1="721.40" x2="748.50" y2="799.80" stroke="#777" stroke-width="1.2" />
<line x1="855.80" y1="752.30" x2="1200.00" y2="752.30" stroke="#222" stroke-width="1.5" />
<line x1="855.80" y1="800.20" x2="1200.00" y2="800.20" stroke="#222" stroke-width="1.6" />
<line x1="855.80" y1="844.80" x2="1200.00" y2="844.80" stroke="#222" stroke-width="1.6" />
<line x1="1070.20" y1="800.20" x2="1070.20" y2="890.00" stroke="#222" stroke-width="1.6" />
<line x1="1116.60" y1="800.20" x2="1116.60" y2="844.80" stroke="#222" stroke-width="1.5" />
<line x1="1162.70" y1="800.20" x2="1162.70" y2="844.80" stroke="#222" stroke-width="1.5" />
<line x1="1070.20" y1="815.60" x2="1200.00" y2="815.60" stroke="#222" stroke-width="1.4" />
<text x="659.60" y="795.00" font-size="12.2" text-anchor="start"  fill="#1e1e1e" textLength="26.80" lengthAdjust="spacingAndGlyphs" >Изм.</text>
<text x="688.20" y="795.00" font-size="12.2" text-anchor="start"  fill="#1e1e1e" textLength="24.80" lengthAdjust="spacingAndGlyphs" >Кол.</text>
<text x="718.30" y="795.00" font-size="12.2" text-anchor="start"  fill="#1e1e1e" textLength="28.00" lengthAdjust="spacingAndGlyphs" >Лист</text>
<text x="748.90" y="795.00" font-size="9.6" text-anchor="start"  fill="#1e1e1e" textLength="29.40" lengthAdjust="spacingAndGlyphs" >№док.</text>
<text x="782.10" y="795.00" font-size="12.2" text-anchor="start"  fill="#1e1e1e" textLength="33.30" lengthAdjust="spacingAndGlyphs" >Подп.</text>
<text x="825.90" y="795.00" font-size="12.2" text-anchor="start"  fill="#1e1e1e" textLength="28.00" lengthAdjust="spacingAndGlyphs" >Дата</text>
<text x="658.75" y="825.65" font-size="10.3" text-anchor="start"  fill="#1e1e1e" textLength="47.25" lengthAdjust="spacingAndGlyphs" >Разработал</text>
<text x="721.75" y="825.10" font-size="10.3" text-anchor="start"  fill="#1e1e1e" textLength="45.50" lengthAdjust="spacingAndGlyphs" >Шабалина</text>
<text x="658.75" y="856.10" font-size="10.3" text-anchor="start"  fill="#1e1e1e" textLength="35.00" lengthAdjust="spacingAndGlyphs" >Н. контр.</text>
<text x="721.75" y="856.10" font-size="10.3" text-anchor="start"  fill="#1e1e1e" textLength="51.60" lengthAdjust="spacingAndGlyphs" >Двоеглазов</text>
<text x="658.75" y="871.90" font-size="10.3" text-anchor="start"  fill="#1e1e1e" textLength="17.50" lengthAdjust="spacingAndGlyphs" >ГИП</text>
<text x="724.90" y="871.50" font-size="10.3" text-anchor="start"  fill="#1e1e1e" textLength="45.50" lengthAdjust="spacingAndGlyphs" >Коротаев</text>
<text x="829.40" y="827.40" font-size="10" text-anchor="start"  fill="#1e1e1e" textLength="20.10" lengthAdjust="spacingAndGlyphs" >07.21</text>
<text x="829.40" y="857.50" font-size="10" text-anchor="start"  fill="#1e1e1e" textLength="20.10" lengthAdjust="spacingAndGlyphs" >07.21</text>
<text x="829.40" y="872.90" font-size="10" text-anchor="start"  fill="#1e1e1e" textLength="20.10" lengthAdjust="spacingAndGlyphs" >07.21</text>
<text x="1044.00" y="742.00" font-size="12.5" text-anchor="middle"  fill="#1e1e1e"  >11-21П-АР</text>
<text x="887.30" y="763.00" font-size="12" text-anchor="start"  fill="#1e1e1e"  >Реконструкция здания склада, расположенное по адресу:</text>
<text x="1047.00" y="778.00" font-size="12" text-anchor="middle"  fill="#1e1e1e"  >г. Киров, Ленинский район, ул. Маклина, д. 77 (кадастровый</text>
<text x="1048.20" y="792.50" font-size="12" text-anchor="middle"  fill="#1e1e1e" textLength="248.00" lengthAdjust="spacingAndGlyphs" >номер земельного участка 43:40:000314:457</text>
<text x="970.00" y="825.50" font-size="10.7" text-anchor="middle" font-style="italic" fill="#1e1e1e" textLength="89.00" lengthAdjust="spacingAndGlyphs" >ООО "ИРИДА-43"</text>
<text x="1072.60" y="812.50" font-size="12" text-anchor="start"  fill="#1e1e1e" textLength="42.20" lengthAdjust="spacingAndGlyphs" >Стадия</text>
<text x="1125.30" y="812.50" font-size="12" text-anchor="start"  fill="#1e1e1e" textLength="26.90" lengthAdjust="spacingAndGlyphs" >Лист</text>
<text x="1169.10" y="812.50" font-size="12" text-anchor="start"  fill="#1e1e1e" textLength="42.20" lengthAdjust="spacingAndGlyphs" >Листов</text>
<text x="1094.50" y="834.10" font-size="12.5" text-anchor="middle"  fill="#1e1e1e"  >ЭП</text>
<text x="1142.50" y="834.10" font-size="12.5" text-anchor="middle"  fill="#1e1e1e"  >12</text>
<text x="1188.40" y="834.10" font-size="12.5" text-anchor="middle"  fill="#1e1e1e"  >18</text>
<text x="969.60" y="868.50" font-size="10.8" text-anchor="middle"  fill="#1e1e1e" textLength="162.00" lengthAdjust="spacingAndGlyphs" >Маркировочный план 1-го этажа</text>
<text x="1148.70" y="869.10" font-size="12.8" text-anchor="middle"  fill="#1e1e1e" textLength="85.20" lengthAdjust="spacingAndGlyphs" >ООО "Альянс"</text>
<g transform="translate(775,805) scale(0.09447)" fill="none" stroke="#111" stroke-width="14" stroke-linecap="round" stroke-linejoin="round">
<path d="M 88,92 C 100,82 125,90 132,110 L 140,215 C 142,225 150,220 152,205 L 160,120 L 165,52 L 168,150 L 172,215 C 176,225 184,218 188,200 L 196,140"/>
<path d="M 235,150 C 215,135 195,160 200,195 C 205,225 235,215 238,180 L 240,150 L 242,218"/>
<path d="M 242,218 C 280,160 320,90 345,70 C 360,62 350,110 330,190 C 310,270 280,370 268,385 C 255,400 262,350 280,300 C 300,250 320,220 340,210"/>
<path d="M 300,228 C 340,160 400,90 430,72 C 448,65 440,110 410,190 C 380,270 350,370 335,385 C 322,398 328,350 345,300 C 360,260 380,230 400,215"/>
<path d="M 355,222 C 395,200 430,185 465,172"/>
<path d="M 448,228 C 480,205 520,188 560,182"/>
<path d="M 130,630 C 190,560 250,490 300,432 L 262,535 C 280,505 300,478 318,490 L 306,545 C 330,520 360,490 392,474 C 440,458 520,445 605,448"/>
<path d="M 460,520 C 380,560 250,600 160,660 C 110,700 120,760 170,765 C 230,770 280,700 300,650 C 310,610 270,600 230,625 C 170,660 150,720 190,740 C 240,760 300,700 330,660 L 470,525"/>
<path d="M 320,712 C 380,640 430,580 482,540"/>
<path d="M 300,732 C 350,660 420,590 495,568"/>
<path d="M 345,700 C 390,640 430,590 470,555"/>
<path d="M 360,565 C 390,540 420,530 440,560 C 455,545 470,530 485,528"/>
<path d="M 290,830 L 372,690"/>
</g>
</svg>
</body></html>
